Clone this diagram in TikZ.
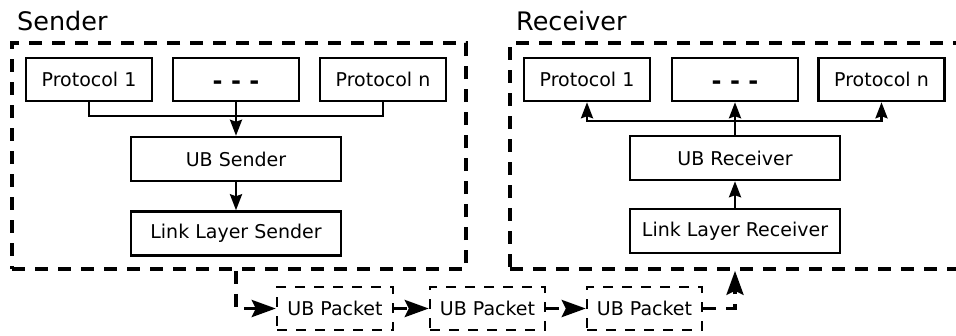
\documentclass[tikz,border=0pt]{standalone}
\usepackage{fontspec}
\setmainfont{DejaVu Sans}
\usetikzlibrary{arrows.meta}
\begin{document}
\begin{tikzpicture}[x=1pt,y=-1pt,
  box/.style={draw, line width=2.5pt, minimum width=126pt, minimum height=43pt, inner sep=0pt, font=\fontsize{19}{22}\selectfont},
  wide/.style={box, minimum width=210pt, minimum height=44pt},
  pkt/.style={draw, line width=2.4pt, dash pattern=on 10pt off 9pt, minimum width=115pt, minimum height=43pt, inner sep=0pt, font=\fontsize{19}{22}\selectfont},
  frame/.style={draw, line width=3.6pt, dash pattern=on 13pt off 10pt, inner sep=0pt},
  title/.style={anchor=base west, inner sep=0pt, font=\fontsize{25.5}{30}\selectfont},
  conn/.style={line width=2.5pt},
  arr/.style={conn, -{Stealth[length=16pt,width=12pt,inset=2pt]}},
  parr/.style={line width=3.6pt, dash pattern=on 13pt off 10pt, -{Stealth[length=24pt,width=17pt,inset=4pt]}},
  dotsfont/.style={font=\fontsize{24}{24}\selectfont\bfseries, text height=19pt, text depth=0pt}
]
\useasboundingbox (0,0) rectangle (956,335);
% frames
\node[frame, minimum width=454pt, minimum height=226pt] (sframe) at (239,156) {};
\node[frame, minimum width=460pt, minimum height=226pt] (rframe) at (740,156) {};
% titles
\node[title] (stitle) at (17,30) {Sender};
\node[title] (rtitle) at (516,30) {Receiver};
% sender
\node[box] (sp1) at (89,79.5) {Protocol 1};
\node[box, dotsfont] (sdots) at (236,79.5) {- - -};
\node[box] (spn) at (383,79.5) {Protocol n};
\node[wide] (ubs) at (236,159) {UB Sender};
\node[wide] (lls) at (236,233.5) {Link Layer Sender};
% receiver
\node[box] (rp1) at (587,79.5) {Protocol 1};
\node[box, dotsfont] (rdots) at (735,79.5) {- - -};
\node[box] (rpn) at (881.5,79.5) {Protocol n};
\node[wide] (ubr) at (735,158) {UB Receiver};
\node[wide] (llr) at (735,231) {Link Layer Receiver};
% packets
\node[pkt, minimum width=116pt] (pk1) at (335,308.5) {UB Packet};
\node[pkt] (pk2) at (487.5,308.5) {UB Packet};
\node[pkt] (pk3) at (644.5,308.5) {UB Packet};
% sender connectors
\coordinate (sbus) at (236,116);
\draw[conn] (sp1.south) |- (sbus) -| (spn.south);
\draw[arr] (sdots.south) -- (ubs.north);
\draw[arr] (ubs.south) -- (lls.north);
% receiver connectors
\coordinate (rbus) at (735,121);
\draw[arr] (rbus) -| (rp1.south);
\draw[arr] (rbus) -| (rpn.south);
\draw[arr] (ubr.north) -- (rdots.south);
\draw[arr] (llr.north) -- (ubr.south);
% packet path
\draw[parr] (lls.south |- sframe.south) |- (pk1.west);
\draw[parr] (pk1.east) -- (pk2.west);
\draw[parr] (pk2.east) -- (pk3.west);
\draw[parr] (pk3.east) -| (llr.south |- rframe.south);
\end{tikzpicture}
\end{document}
